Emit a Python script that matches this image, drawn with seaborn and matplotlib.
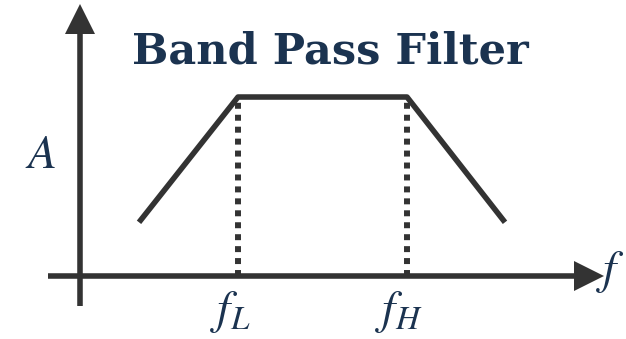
import matplotlib
matplotlib.use("Agg")
import seaborn as sns
import matplotlib.pyplot as plt
import pandas as pd

sns.set_theme(style="white")
plt.rcParams["mathtext.fontset"] = "stix"

# frequency response (arbitrary units)
freq = [0.59, 1.58, 3.27, 4.25]
amp = [0.30, 1.0, 1.0, 0.30]

# cutoff frequencies and their labels
cutoffs = [1.58, 3.27]
cutoff_labels = [r"$f_L$", r"$f_H$"]

title = "Band Pass Filter"
xlabel = r"$f$"
ylabel = r"$A$"

line_color = "#333333"
text_color = "#1b3350"

fig = plt.figure(figsize=(6.26, 3.39), dpi=100)
ax = fig.add_axes([0, 0, 1, 1])
ax.set_xlim(-0.80, 5.46)
ax.set_ylim(-0.352, 1.542)
ax.axis("off")

# axes with arrow heads
ax.plot([-0.32, 5.0], [0, 0], color=line_color, lw=4, solid_capstyle="butt")
ax.plot([0, 0], [-0.17, 1.40], color=line_color, lw=4, solid_capstyle="butt")
ax.plot(5.09, 0, marker=">", ms=21, color=line_color, mew=0)
ax.plot(0, 1.436, marker="^", ms=21, color=line_color, mew=0)

# response curve
df = pd.DataFrame({"freq": freq, "amp": amp})
sns.lineplot(data=df, x="freq", y="amp", sort=False, color=line_color,
             lw=4, ax=ax, solid_capstyle="butt")

# cutoff markers
for fc, lab in zip(cutoffs, cutoff_labels):
    ax.plot([fc, fc], [0, 1.0], color=line_color, lw=4.3,
            linestyle=(0, (1, 1)), dash_capstyle="butt")
    ax.text(fc - 0.08, -0.075, lab, ha="center", va="top", fontsize=34,
            color=text_color)

ax.text(5.30, 0.02, xlabel, ha="center", va="center", fontsize=34,
        color=text_color)
ax.text(-0.39, 0.673, ylabel, ha="center", va="center", fontsize=34,
        color=text_color)

ax.text(2.5, 1.255, title, ha="center", va="center", fontsize=31,
        fontweight="bold", family="DejaVu Serif", color=text_color)

plt.savefig("out.png", dpi=100)
